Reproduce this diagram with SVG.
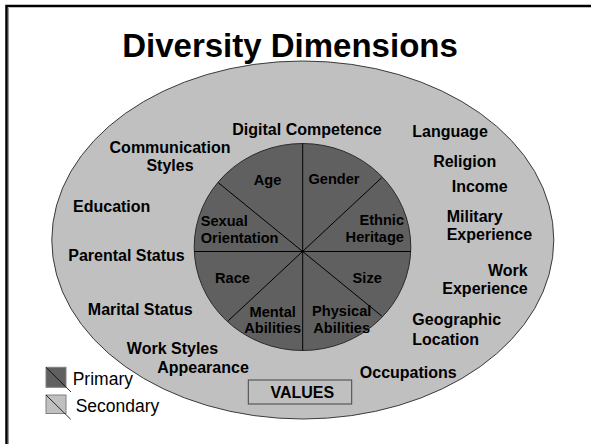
<svg xmlns="http://www.w3.org/2000/svg" width="591" height="444" viewBox="0 0 591 444">
  <style>
    .outer { font-family: "Liberation Sans", Arial, sans-serif; font-weight: bold; font-size: 16px; fill: #000; }
    .inner { font-family: "Liberation Sans", Arial, sans-serif; font-weight: bold; font-size: 14.6px; fill: #000; }
    .legend { font-family: "Liberation Sans", Arial, sans-serif; font-size: 17.5px; fill: #000; }
    .mid { text-anchor: middle; }
    .end { text-anchor: end; }
    .divider { stroke: #000; stroke-width: 1; fill: none; }
  </style>
  <rect width="591" height="444" fill="#fff"/>
  <!-- slide frame -->
  <rect x="6.5" y="6" width="600" height="460" fill="none" stroke="#000" stroke-width="2.5"/>
  <line x1="8.5" y1="8" x2="8.5" y2="444" stroke="#999" stroke-width="1"/>

  <text x="290" y="57" class="outer mid" style="font-size:33px">Diversity Dimensions</text>

  <!-- secondary dimensions ring -->
  <g id="secondary">
    <ellipse cx="302.8" cy="240" rx="251" ry="179" fill="#c0c0c0" stroke="#3a3a3a" stroke-width="1"/>
    <text x="307" y="135" class="outer mid">Digital Competence</text>
    <text x="170" y="152.7" class="outer mid">Communication</text>
    <text x="170" y="171" class="outer mid">Styles</text>
    <text x="111.7" y="211.7" class="outer mid">Education</text>
    <text x="126.5" y="260.7" class="outer mid">Parental Status</text>
    <text x="140.3" y="315" class="outer mid">Marital Status</text>
    <text x="172.5" y="354" class="outer mid">Work Styles</text>
    <text x="203" y="372.7" class="outer mid">Appearance</text>
    <text x="450" y="137.3" class="outer mid">Language</text>
    <text x="464.7" y="166.7" class="outer mid">Religion</text>
    <text x="479.7" y="191.7" class="outer mid">Income</text>
    <text x="446.7" y="221.7" class="outer">Military</text>
    <text x="446.7" y="240" class="outer">Experience</text>
    <text x="527.7" y="275.7" class="outer end">Work</text>
    <text x="527.7" y="294" class="outer end">Experience</text>
    <text x="412.3" y="325" class="outer">Geographic</text>
    <text x="412.3" y="345" class="outer">Location</text>
    <text x="456.7" y="378.3" class="outer end">Occupations</text>
  </g>

  <!-- primary dimensions circle -->
  <g id="primary">
    <ellipse cx="302.5" cy="247" rx="108.3" ry="103.5" fill="#606060" stroke="#2a2a2a" stroke-width="1"/>
    <g id="dividers">
      <line class="divider" x1="194.2" y1="251.5" x2="410.8" y2="251.5"/>
      <line class="divider" x1="302.7" y1="143.5" x2="302.7" y2="350.5"/>
      <line class="divider" x1="218.3" y1="182.7" x2="381.7" y2="316"/>
      <line class="divider" x1="381.7" y1="177.7" x2="228.3" y2="320.7"/>
    </g>
    <text x="267.5" y="185" class="inner mid">Age</text>
    <text x="334" y="184.3" class="inner mid">Gender</text>
    <text x="200.7" y="225.7" class="inner">Sexual</text>
    <text x="200.7" y="242.7" class="inner">Orientation</text>
    <text x="404" y="225" class="inner end">Ethnic</text>
    <text x="404" y="242.3" class="inner end">Heritage</text>
    <text x="232.5" y="283.3" class="inner mid">Race</text>
    <text x="367.2" y="282.7" class="inner mid">Size</text>
    <text x="272.7" y="317.3" class="inner mid">Mental</text>
    <text x="272.7" y="333.3" class="inner mid">Abilities</text>
    <text x="341.7" y="315.7" class="inner mid">Physical</text>
    <text x="341.7" y="333.3" class="inner mid">Abilities</text>
  </g>

  <g id="values">
    <rect x="248.3" y="380" width="103.4" height="24" fill="#c0c0c0" stroke="#444" stroke-width="1"/>
    <text x="302.3" y="398.3" class="outer mid">VALUES</text>
  </g>

  <!-- key -->
  <g id="legend-primary">
    <rect x="46" y="367.3" width="20" height="20" fill="#606060" stroke="#808080" stroke-width="1"/>
    <line x1="46" y1="367.3" x2="71" y2="392" stroke="#000" stroke-width="0.8"/>
    <text x="72.7" y="385" class="legend">Primary</text>
  </g>
  <g id="legend-secondary">
    <rect x="46" y="395" width="20" height="18.5" fill="#c0c0c0" stroke="#808080" stroke-width="1"/>
    <line x1="46" y1="395" x2="70.7" y2="419.3" stroke="#000" stroke-width="0.8"/>
    <text x="75.7" y="411.7" class="legend">Secondary</text>
  </g>
</svg>
